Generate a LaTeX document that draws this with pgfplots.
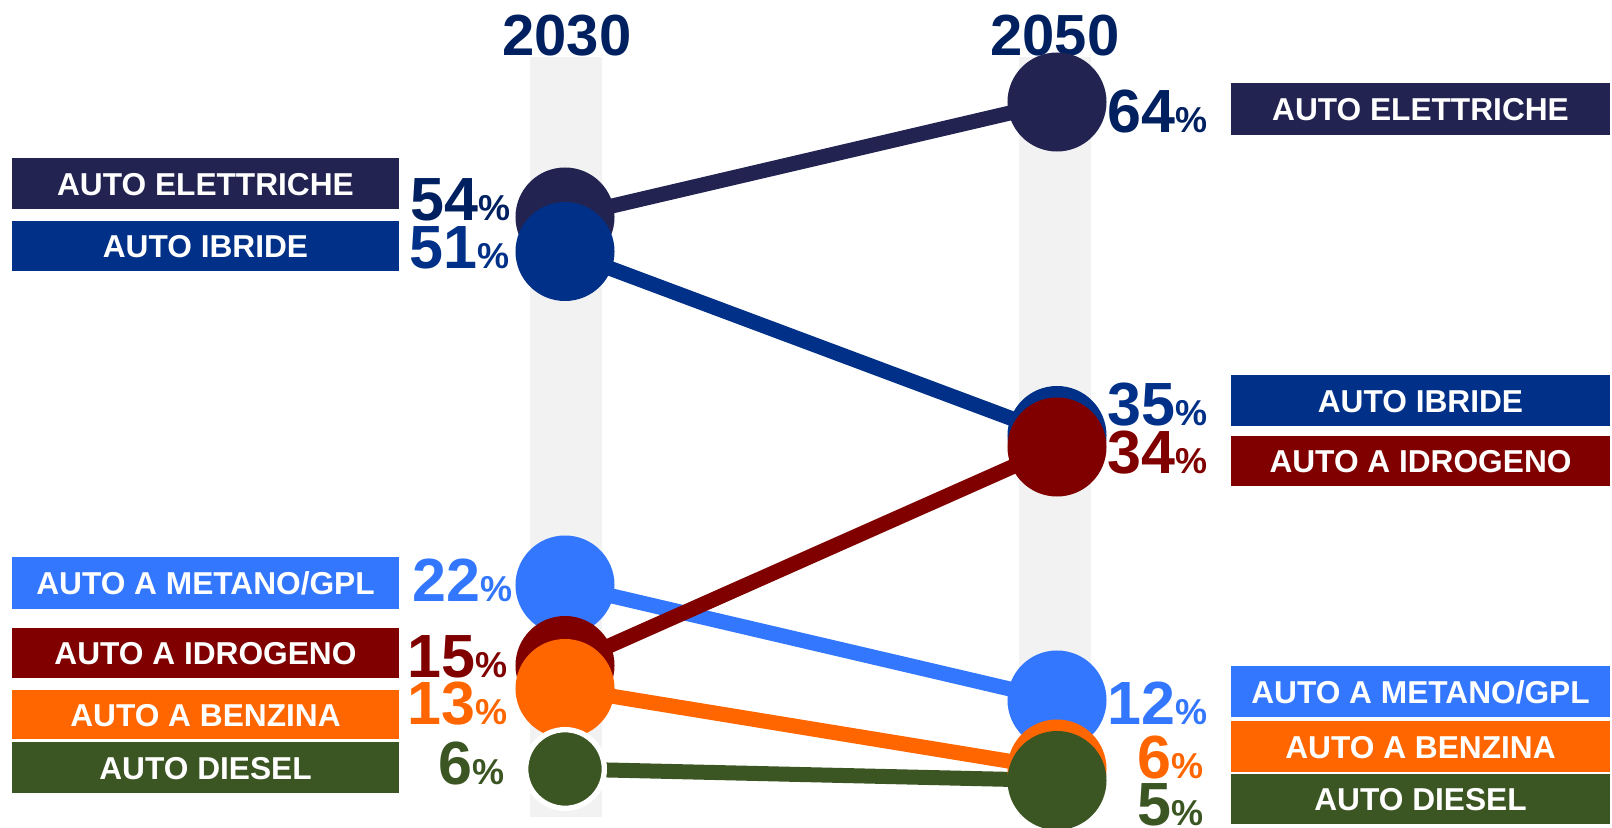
\documentclass[border=0pt]{standalone}
\usepackage{pgfplots}
\pgfplotsset{compat=1.18}
\usepackage{fontspec}
\setmainfont{Liberation Sans}

\definecolor{elet}{RGB}{34,35,80}
\definecolor{ibri}{RGB}{0,48,135}
\definecolor{idro}{RGB}{128,0,0}
\definecolor{meta}{RGB}{51,119,255}
\definecolor{benz}{RGB}{255,102,0}
\definecolor{dies}{RGB}{59,86,35}
\definecolor{navytxt}{RGB}{0,32,96}
\definecolor{band}{RGB}{242,242,242}

% box label, big number with small percent sign
\newcommand{\boxlab}[1]{\fontsize{9.5}{9.5}\selectfont\bfseries #1}
\newcommand{\pct}[1]{\bfseries\fontsize{18.3}{18.3}\selectfont #1\fontsize{10.8}{10.8}\selectfont\%}

\begin{document}
\begin{tikzpicture}
  % background and annotations, in pixel units of the reference (y downwards)
  \begin{scope}[x=0.3pt, y=-0.3pt, yshift=248.1pt]
    \path (0,0) rectangle (1612,827);
    % column bands
    \fill[band] (530,57) rectangle (602,817);
    \fill[band] (1019,57) rectangle (1091,817);
    % years
    \node[anchor=base, inner sep=0, text=navytxt, font=\bfseries\fontsize{17.4}{17.4}\selectfont] at (567,55) {2030};
    \node[anchor=base, inner sep=0, text=navytxt, font=\bfseries\fontsize{17.4}{17.4}\selectfont] at (1055,55) {2050};

    % left boxes
    \fill[elet] (12,158) rectangle (399,209);
    \node[anchor=base, inner sep=0, text=white] at (205.5,195) {\boxlab{AUTO ELETTRICHE}};
    \fill[ibri] (12,221) rectangle (399,271);
    \node[anchor=base, inner sep=0, text=white] at (205.5,257.5) {\boxlab{AUTO IBRIDE}};
    \fill[meta] (12,557) rectangle (399,609);
    \node[anchor=base, inner sep=0, text=white] at (205.5,594.5) {\boxlab{AUTO A METANO/GPL}};
    \fill[idro] (12,628) rectangle (399,678);
    \node[anchor=base, inner sep=0, text=white] at (205.5,664.5) {\boxlab{AUTO A IDROGENO}};
    \fill[benz] (12,690) rectangle (399,739);
    \node[anchor=base, inner sep=0, text=white] at (205.5,726) {\boxlab{AUTO A BENZINA}};
    \fill[dies] (12,742) rectangle (399,793);
    \node[anchor=base, inner sep=0, text=white] at (205.5,779) {\boxlab{AUTO DIESEL}};

    % right boxes
    \fill[elet] (1231,83) rectangle (1610,135);
    \node[anchor=base, inner sep=0, text=white] at (1420.5,120.5) {\boxlab{AUTO ELETTRICHE}};
    \fill[ibri] (1231,375) rectangle (1610,426);
    \node[anchor=base, inner sep=0, text=white] at (1420.5,412) {\boxlab{AUTO IBRIDE}};
    \fill[idro] (1231,436) rectangle (1610,486);
    \node[anchor=base, inner sep=0, text=white] at (1420.5,472.5) {\boxlab{AUTO A IDROGENO}};
    \fill[meta] (1231,666) rectangle (1610,717);
    \node[anchor=base, inner sep=0, text=white] at (1420.5,703) {\boxlab{AUTO A METANO/GPL}};
    \fill[benz] (1231,721) rectangle (1610,772);
    \node[anchor=base, inner sep=0, text=white] at (1420.5,758) {\boxlab{AUTO A BENZINA}};
    \fill[dies] (1231,774) rectangle (1610,824);
    \node[anchor=base, inner sep=0, text=white] at (1420.5,810.5) {\boxlab{AUTO DIESEL}};

    % percentages 2030
    \node[anchor=base east, inner sep=0, text=navytxt] at (511,220) {\pct{54}};
    \node[anchor=base east, inner sep=0, text=ibri] at (510,268) {\pct{51}};
    \node[anchor=base east, inner sep=0, text=meta] at (513,601) {\pct{22}};
    \node[anchor=base east, inner sep=0, text=idro] at (508,677) {\pct{15}};
    \node[anchor=base east, inner sep=0, text=benz] at (508,724) {\pct{13}};
    \node[anchor=base east, inner sep=0, text=dies] at (505,784) {\pct{6}};
    % percentages 2050
    \node[anchor=base east, inner sep=0, text=navytxt] at (1208,132) {\pct{64}};
    \node[anchor=base east, inner sep=0, text=ibri] at (1208,425) {\pct{35}};
    \node[anchor=base east, inner sep=0, text=idro] at (1208,473) {\pct{34}};
    \node[anchor=base east, inner sep=0, text=meta] at (1208,724) {\pct{12}};
    \node[anchor=base east, inner sep=0, text=benz] at (1204,778) {\pct{6}};
    \node[anchor=base east, inner sep=0, text=dies] at (1204,825) {\pct{5}};
  \end{scope}

  \begin{axis}[
      at={(0,0)}, anchor=south west,
      scale only axis,
      width=483.6pt, height=248.1pt,
      hide axis,
      xmin=0, xmax=1612,
      ymin=0.9565, ymax=72.8696,
      clip=false,
      every axis plot/.append style={line width=4.5pt, mark=*, mark size=12.6pt},
    ]
    % x = 565 is 2030, x = 1057 is 2050
    \addplot[elet, mark options={draw=none, fill=elet}] coordinates {(565,54) (1057,64)};
    \addplot[ibri, mark options={draw=none, fill=ibri}] coordinates {(565,51) (1057,35)};
    \addplot[meta, mark options={draw=none, fill=meta}] coordinates {(565,22) (1057,12)};
    \addplot[idro, mark options={draw=none, fill=idro}] coordinates {(565,15) (1057,34)};
    \addplot[benz, mark options={draw=none, fill=benz}] coordinates {(565,13) (1057,6)};
    \addplot[dies, mark indices={2}, mark options={draw=none, fill=dies}] coordinates {(565,6) (1057,5)};
    % 2030 diesel point, with a white ring
    \addplot[only marks, mark=*, mark size=11.8pt, mark options={draw=white, line width=1.6pt, fill=dies}] coordinates {(565,6)};
  \end{axis}
\end{tikzpicture}
\end{document}
